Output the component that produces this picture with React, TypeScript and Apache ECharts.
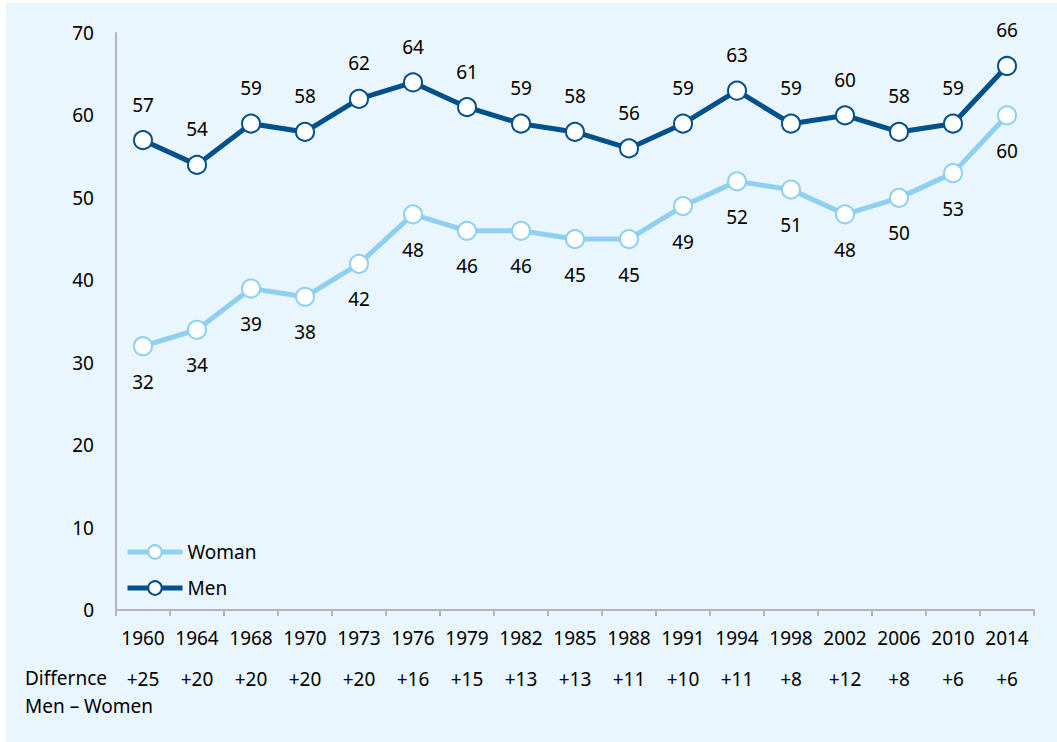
import React, { useEffect, useRef } from "react";
import * as echarts from "echarts";

const years = ["1960", "1964", "1968", "1970", "1973", "1976", "1979", "1982", "1985", "1988", "1991", "1994", "1998", "2002", "2006", "2010", "2014"];
const men = [57, 54, 59, 58, 62, 64, 61, 59, 58, 56, 59, 63, 59, 60, 58, 59, 66];
const women = [32, 34, 39, 38, 42, 48, 46, 46, 45, 45, 49, 52, 51, 48, 50, 53, 60];
const differences = ["+25", "+20", "+20", "+20", "+20", "+16", "+15", "+13", "+13", "+11", "+10", "+11", "+8", "+12", "+8", "+6", "+6"];
const yTicks = { min: 0, max: 70, interval: 10 };

const FONT = "'Noto Sans', sans-serif";
const TEXT = "#000000";
const MEN_COLOR = "#00508c";
const WOMEN_COLOR = "#8fd0f2";
const AXIS_COLOR = "#b5b5b5";

export default function App() {
  const ref = useRef<HTMLDivElement>(null);

  useEffect(() => {
    if (!ref.current) return;
    const chart = echarts.init(ref.current, null, { renderer: "svg" });
    const labelCommon = {
      show: true,
      fontSize: 19,
      fontFamily: FONT,
      color: TEXT,
      distance: 16,
    };
    chart.setOption({
      animation: false,
      textStyle: { fontFamily: FONT },
      grid: { left: 110, top: 30, right: 23, bottom: 132, containLabel: false },
      legend: {
        orient: "vertical",
        left: 119,
        top: 539,
        padding: 0,
        itemWidth: 55,
        itemHeight: 17,
        itemGap: 16,
        data: ["Woman", "Men"],
        lineStyle: { width: 5 },
        textStyle: { fontSize: 19, fontFamily: FONT, color: TEXT, lineHeight: 20 },
      },
      xAxis: {
        type: "category",
        data: years,
        boundaryGap: true,
        axisLine: { show: true, lineStyle: { color: AXIS_COLOR, width: 2 } },
        axisTick: { show: true, length: 6, lineStyle: { color: AXIS_COLOR, width: 2 } },
        axisLabel: {
          margin: 7.5,
          interval: 0,
          formatter: (v: string, i: number) => `{y|${v}}\n{d|${differences[i]}}`,
          rich: {
            y: { fontSize: 19, fontFamily: FONT, color: TEXT, lineHeight: 41 },
            d: { fontSize: 19, fontFamily: FONT, color: TEXT, lineHeight: 41 },
          },
        },
        splitLine: { show: false },
      },
      yAxis: {
        type: "value",
        min: yTicks.min,
        max: yTicks.max,
        interval: yTicks.interval,
        axisLine: { show: true, lineStyle: { color: AXIS_COLOR, width: 2 } },
        axisTick: { show: false },
        splitLine: { show: false },
        axisLabel: { fontSize: 19, fontFamily: FONT, color: TEXT, margin: 22 },
      },
      graphic: [
        {
          type: "text",
          left: 19,
          top: 665,
          style: { text: "Differnce", fontSize: 19, fontFamily: FONT, fill: TEXT },
        },
        {
          type: "text",
          left: 19,
          top: 693,
          style: { text: "Men – Women", fontSize: 19, fontFamily: FONT, fill: TEXT },
        },
      ],
      series: [
        {
          name: "Woman",
          type: "line",
          data: women,
          symbol: "circle",
          symbolSize: 18,
          lineStyle: { color: WOMEN_COLOR, width: 5 },
          itemStyle: { color: "#ffffff", borderColor: WOMEN_COLOR, borderWidth: 2 },
          label: { ...labelCommon, position: "bottom" },
          z: 2,
        },
        {
          name: "Men",
          type: "line",
          data: men,
          symbol: "circle",
          symbolSize: 18,
          lineStyle: { color: MEN_COLOR, width: 5 },
          itemStyle: { color: "#ffffff", borderColor: MEN_COLOR, borderWidth: 2 },
          label: { ...labelCommon, position: "top" },
          z: 3,
        },
      ],
    });
    return () => chart.dispose();
  }, []);

  return (
    <div style={{ position: "fixed", left: 0, top: 0, width: 1057, height: 742, background: "#ffffff" }}>
      <div
        ref={ref}
        style={{ position: "absolute", left: 6, top: 3, width: 1051, height: 739, background: "#eaf6fd" }}
      />
    </div>
  );
}
